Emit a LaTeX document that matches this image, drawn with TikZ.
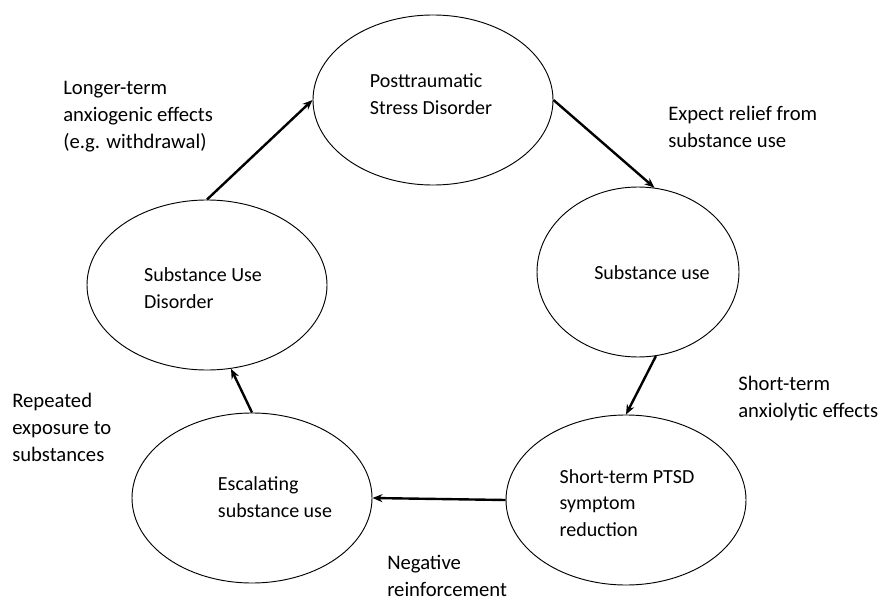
\documentclass[tikz,border=0pt]{standalone}
\usepackage{fontspec}
\setmainfont{Carlito}
\usetikzlibrary{shapes.geometric,arrows.meta}
\begin{document}
\begin{tikzpicture}[x=0.75pt,y=-0.75pt,
		stage/.style={draw,ellipse,line width=0.7pt,minimum width=180pt,minimum height=127.5pt,inner sep=0pt},
		stagetext/.style={align=left,inner sep=0pt,font=\fontsize{15}{20}\selectfont},
		note/.style={anchor=north west,align=left,inner sep=0pt,font=\fontsize{15.5}{20.25}\selectfont},
		link/.style={-{Stealth[length=7.5pt,width=6pt]},line width=1.8pt}]
		\useasboundingbox (0,0) rectangle (881,602);
		% the five stages of the cycle
		\node[stage] (ptsd) at (433,100) {};
		\node[stage,minimum width=151.5pt] (use) at (638,272) {};
		\node[stage] (relief) at (626,500) {};
		\node[stage] (escal) at (252,498) {};
		\node[stage] (sud) at (207,285) {};
		\node[stagetext] (ptsd-text) at (431,94) {Posttraumatic\\Stress Disorder};
		\node[stagetext] (use-text) at (652,273) {Substance use};
		\node[stagetext] (relief-text) at (627,503) {Short-term PTSD\\symptom\\reduction};
		\node[stagetext] (escal-text) at (275,497) {Escalating\\substance use};
		\node[stagetext] (sud-text) at (203,288) {Substance Use\\Disorder};
		% arrows between them
		\draw[link] (ptsd.east) -- (use.79);
		\draw[link] (use.-78) -- (relief.north);
		\draw[link] (relief.west) -- (escal.east);
		\draw[link] (escal.north) -- (sud.-74);
		\draw[link] (sud.north) -- (ptsd.west);
		% labels of the arrows
		\node[note] (longer) at (63,81) {Longer-term\\anxiogenic effects\\(e.g. withdrawal)};
		\node[note] (expect) at (668,106) {Expect relief from\\substance use};
		\node[note] (short) at (738,376) {Short-term\\anxiolytic effects};
		\node[note] (repeat) at (12,393) {Repeated\\exposure to\\substances};
		\node[note] (negative) at (387,555) {Negative\\reinforcement};
	\end{tikzpicture}
\end{document}
